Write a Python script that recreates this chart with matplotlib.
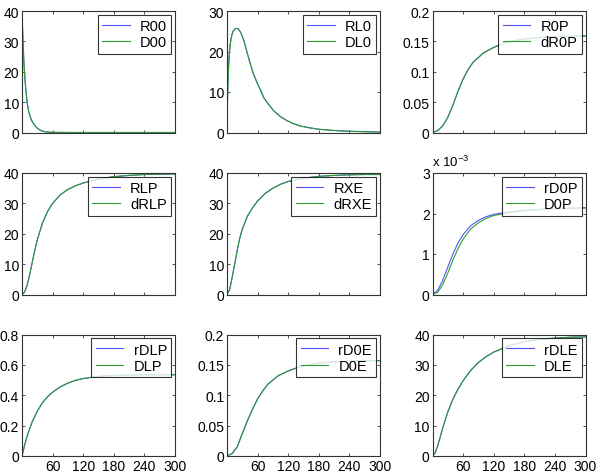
"""3x3 grid of simulated vs. reduced model trajectories (MATLAB-style panels)."""

import matplotlib
matplotlib.use("Agg")
import matplotlib.pyplot as plt
from matplotlib.ticker import FuncFormatter

plt.rcParams["font.family"] = ["Liberation Sans", "DejaVu Sans"]
plt.rcParams["mathtext.fontset"] = "custom"
plt.rcParams["mathtext.rm"] = "Liberation Sans"
plt.rcParams["mathtext.it"] = "Liberation Sans"

BLUE = "#5555FF"
GREEN = "#2E9B2E"
AX = "#333333"

# ---- data (time in minutes) ----
t_r00 = [0, 2, 4, 5, 7, 10, 13, 17, 20, 25, 30, 37, 45, 55, 70, 100, 150, 200, 250, 300]
r00 = [40, 30, 22, 19.5, 15, 10, 7, 4.8, 3.6, 2.3, 1.4, 0.65, 0.25, 0.08, 0.02, 0, 0, 0, 0, 0]

t_rl0 = [0, 1, 2, 4, 6, 8, 10, 12, 15, 18, 20, 22, 25, 28, 33, 40, 46, 52, 59, 66, 72, 80,
         92, 105, 118, 130, 144, 160, 180, 210, 240, 270, 300]
rl0 = [0, 8, 13, 18.5, 21.5, 23.2, 24.3, 25, 25.5, 25.7, 25.7, 25.6, 25.1, 24.4, 22.7,
       19.5, 16.8, 14.4, 12.3, 10.4, 8.6, 7.2, 5.3, 3.9, 2.9, 2.2, 1.6, 1.2, 0.8, 0.5,
       0.3, 0.2, 0.1]

t_r0p = [0, 10, 20, 30, 40, 50, 60, 70, 80, 100, 120, 140, 160, 180, 210, 240, 270, 300]
r0p = [0, 0.003, 0.011, 0.025, 0.045, 0.068, 0.088, 0.104, 0.116, 0.131, 0.140, 0.147,
       0.151, 0.154, 0.156, 0.158, 0.158, 0.159]

t_rlp = [0, 5, 10, 15, 20, 25, 30, 40, 50, 60, 75, 90, 105, 120, 150, 180, 210, 240, 270, 300]
rlp = [0, 0.8, 3, 6.5, 10.5, 14.5, 18, 23.5, 27.3, 30, 32.8, 34.6, 35.8, 36.7, 38, 38.8,
       39.2, 39.5, 39.6, 39.7]

t_rxe = [0, 5, 10, 15, 20, 25, 30, 40, 50, 60, 75, 90, 105, 120, 150, 180, 210, 240, 270, 300]
rxe = [0, 1.5, 5.5, 10, 14.5, 18.5, 21.5, 25.8, 28.5, 30.8, 33.3, 35, 36.3, 37.2, 38.3,
       38.9, 39.2, 39.4, 39.5, 39.5]

# rD0P / D0P in units of 1e-3
t_d0p = [0, 10, 20, 30, 40, 50, 60, 75, 90, 105, 120, 150, 180, 210, 240, 270, 300]
rd0p = [0, 0.1, 0.35, 0.68, 1.0, 1.27, 1.48, 1.7, 1.83, 1.92, 1.98, 2.04, 2.08, 2.1,
        2.12, 2.13, 2.14]
d0p = [0, 0.05, 0.24, 0.53, 0.85, 1.13, 1.37, 1.62, 1.77, 1.88, 1.95, 2.02, 2.07, 2.1,
       2.12, 2.13, 2.14]

t_dlp = [0, 5, 10, 15, 20, 30, 40, 50, 60, 75, 90, 105, 120, 150, 180, 210, 240, 270, 300]
dlp = [0, 0.07, 0.13, 0.18, 0.225, 0.295, 0.35, 0.39, 0.42, 0.455, 0.48, 0.498, 0.51,
       0.524, 0.53, 0.533, 0.534, 0.535, 0.535]

t_d0e = [0, 10, 20, 30, 40, 50, 60, 70, 80, 100, 120, 140, 160, 180, 210, 240, 270, 300]
d0e = [0, 0.004, 0.015, 0.037, 0.058, 0.077, 0.094, 0.107, 0.118, 0.132, 0.140, 0.146,
       0.150, 0.153, 0.155, 0.156, 0.157, 0.157]

t_dle = [0, 5, 10, 15, 20, 30, 40, 50, 60, 75, 90, 105, 120, 150, 180, 210, 240, 270, 300]
dle = [0, 1.0, 3.2, 6.2, 9.2, 14.5, 18.7, 22, 24.8, 28.2, 30.8, 32.7, 34.2, 36.3, 37.6,
       38.4, 38.8, 39.1, 39.2]

# (x, blue, green, labels, ylim, yticks)
panels = [
    (t_r00, r00, r00, ("R00", "D00"), 40, [0, 10, 20, 30, 40]),
    (t_rl0, rl0, rl0, ("RL0", "DL0"), 30, [0, 10, 20, 30]),
    (t_r0p, r0p, r0p, ("R0P", "dR0P"), 0.2, [0, 0.05, 0.1, 0.15, 0.2]),
    (t_rlp, rlp, rlp, ("RLP", "dRLP"), 40, [0, 10, 20, 30, 40]),
    (t_rxe, rxe, rxe, ("RXE", "dRXE"), 40, [0, 10, 20, 30, 40]),
    (t_d0p, rd0p, d0p, ("rD0P", "D0P"), 3, [0, 1, 2, 3]),
    (t_dlp, dlp, dlp, ("rDLP", "DLP"), 0.8, [0, 0.2, 0.4, 0.6, 0.8]),
    (t_d0e, d0e, d0e, ("rD0E", "D0E"), 0.2, [0, 0.05, 0.1, 0.15, 0.2]),
    (t_dle, dle, dle, ("rDLE", "DLE"), 40, [0, 10, 20, 30, 40]),
]

W, H = 600, 477
lefts = [22, 227, 432.5]
tops = [12, 174, 335.5]
aw, ah = 153, 121.5
FS = 10

fig = plt.figure(figsize=(W / 100, H / 100), dpi=100)
fmt = FuncFormatter(lambda v, _: f"{v:g}")

for i, (x, yb, yg, labels, ymax, yticks) in enumerate(panels):
    r, c = divmod(i, 3)
    ax = fig.add_axes([lefts[c] / W, 1 - (tops[r] + ah) / H, aw / W, ah / H])
    ax.plot(x, yb, color=BLUE, linewidth=0.8, label=labels[0])
    ax.plot(x, yg, color=GREEN, linewidth=0.8, label=labels[1])
    ax.set_xlim(0, 300)
    ax.set_ylim(0, ymax)
    ax.set_xticks([60, 120, 180, 240, 300])
    ax.set_yticks(yticks)
    ax.yaxis.set_major_formatter(fmt)
    if r < 2:
        ax.set_xticklabels([])
    ax.tick_params(direction="in", top=True, right=True, length=2.5, width=0.6,
                   labelsize=FS, colors=AX, labelcolor="black", pad=2)
    for sp in ax.spines.values():
        sp.set_color(AX)
        sp.set_linewidth(0.8)
    leg = ax.legend(loc="upper right", fontsize=FS + 0.5, frameon=True, fancybox=False,
                    handlelength=1.9, handletextpad=0.7, labelspacing=0.15,
                    borderpad=0.3, borderaxespad=0.25)
    leg.get_frame().set_edgecolor("black")
    leg.get_frame().set_linewidth(0.8)
    if i == 5:
        ax.text(0.0, 1.03, r"x 10$^{-3}$", transform=ax.transAxes, ha="left",
                va="bottom", fontsize=FS - 0.5)

fig.savefig("out.png", dpi=100, facecolor="white")
